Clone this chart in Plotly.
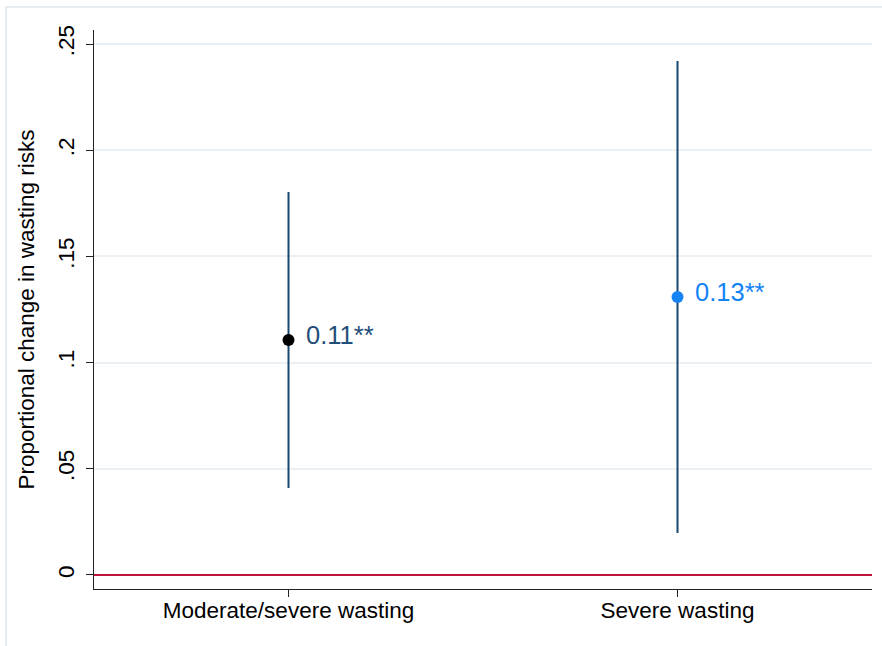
import plotly.graph_objects as go

# Outcome categories and estimated proportional changes with 95% CIs
categories = ["Moderate/severe wasting", "Severe wasting"]
estimates = [0.1106, 0.1309]
ci_low = [0.0410, 0.0198]
ci_high = [0.1803, 0.2420]
stars = ["**", "**"]
marker_colors = ["#000000", "#1483f5"]
label_colors = ["#1f4e79", "#1483f5"]

ytick_vals = [0, 0.05, 0.10, 0.15, 0.20, 0.25]
ytick_text = ["0", ".05", ".1", ".15", ".2", ".25"]

xpos = list(range(1, len(categories) + 1))

fig = go.Figure()

# confidence interval spikes
for x, lo, hi in zip(xpos, ci_low, ci_high):
    fig.add_trace(go.Scatter(
        x=[x, x], y=[lo, hi], mode="lines",
        line=dict(color="#1a476f", width=2),
        showlegend=False, hoverinfo="skip",
    ))

# point estimates
fig.add_trace(go.Scatter(
    x=xpos, y=estimates, mode="markers",
    marker=dict(color=marker_colors, size=12),
    showlegend=False,
))

# value labels next to each point
for x, est, st, col in zip(xpos, estimates, stars, label_colors):
    fig.add_annotation(
        x=x, y=est, text=f"{est:.2f}{st}", showarrow=False,
        xanchor="left", yanchor="middle", xshift=15, yshift=5,
        font=dict(family="Liberation Sans, Arial", size=25.5, color=col),
    )

# outer graph-region frame
fig.add_shape(
    type="rect", xref="paper", yref="paper",
    x0=(6 - 94) / 778, x1=(900 - 94) / 778,
    y0=(589 - 660) / 559, y1=(589 - 7) / 559,
    line=dict(color="#e6ecef", width=2), fillcolor="rgba(0,0,0,0)",
    layer="below",
)

fig.update_layout(
    width=882, height=646,
    margin=dict(l=94, r=10, t=30, b=57),
    paper_bgcolor="white", plot_bgcolor="white",
    font=dict(family="Liberation Sans, Arial", size=22.5, color="#000000"),
    xaxis=dict(
        range=[0.5, 2.5], tickvals=xpos, ticktext=categories,
        showgrid=False, zeroline=False,
        showline=True, linecolor="#222222", linewidth=1.3,
        ticks="outside", ticklen=7, tickcolor="#222222", tickwidth=1,
        tickfont=dict(size=22.5), ticklabelstandoff=-6,
    ),
    yaxis=dict(
        range=[-0.0066, 0.2566], tickvals=ytick_vals, ticktext=ytick_text,
        tickangle=-90,
        showgrid=True, gridcolor="#eaf0f3", gridwidth=1.5,
        zeroline=True, zerolinecolor="#c0143c", zerolinewidth=2,
        showline=True, linecolor="#222222", linewidth=1.3,
        ticks="outside", ticklen=7, tickcolor="#222222", tickwidth=1,
        tickfont=dict(size=22.5), ticklabelstandoff=3,
        title=dict(text="Proportional change in wasting risks",
                   font=dict(size=22.5), standoff=12),
    ),
)

fig.write_html("out.html")
